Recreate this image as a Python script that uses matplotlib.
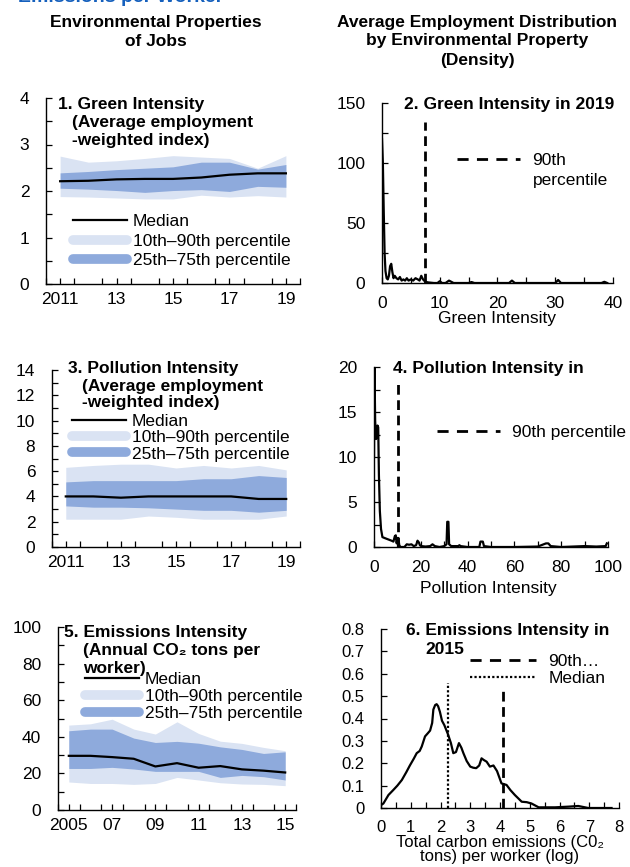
import matplotlib
matplotlib.use("Agg")
import matplotlib.pyplot as plt
from matplotlib.lines import Line2D
from matplotlib.ticker import MultipleLocator, FixedLocator

plt.rcParams["font.family"] = ["Liberation Sans", "DejaVu Sans"]

W, H = 630, 867
LIGHT = "#dae3f3"
DARK = "#8eaadc"
BLUE = "#1560bd"

# ---- panel 1: green intensity (2011-2019)
years_a = list(range(2011, 2020))
green_med = [2.21, 2.22, 2.25, 2.26, 2.26, 2.29, 2.35, 2.38, 2.38]
green_p10 = [1.88, 1.87, 1.85, 1.83, 1.83, 1.91, 1.87, 1.90, 1.87]
green_p90 = [2.75, 2.62, 2.65, 2.70, 2.76, 2.73, 2.70, 2.49, 2.76]
green_p25 = [2.06, 2.04, 2.01, 1.97, 2.01, 2.03, 1.99, 2.10, 2.08]
green_p75 = [2.39, 2.42, 2.46, 2.49, 2.52, 2.62, 2.62, 2.47, 2.57]

# ---- panel 3: pollution intensity (2011-2019)
poll_med = [4.0, 4.0, 3.9, 4.0, 4.0, 4.0, 4.0, 3.8, 3.8]
poll_p10 = [2.2, 2.2, 2.2, 2.45, 2.35, 2.2, 2.2, 2.2, 2.45]
poll_p90 = [6.3, 6.45, 6.55, 6.55, 6.25, 6.45, 6.25, 6.45, 6.1]
poll_p25 = [3.25, 3.15, 3.15, 3.1, 3.0, 2.9, 2.9, 2.75, 2.9]
poll_p75 = [5.15, 5.25, 5.25, 5.25, 5.25, 5.4, 5.4, 5.65, 5.5]

# ---- panel 5: emissions intensity (2005-2015)
years_b = list(range(2005, 2016))
em_med = [29.6, 29.6, 28.9, 28.0, 23.8, 25.6, 23.1, 24.0, 22.2, 21.5, 20.5]
em_p10 = [15.3, 14.5, 14.5, 14.0, 14.5, 17.8, 16.4, 14.9, 14.2, 14.0, 13.3]
em_p90 = [46.4, 47.1, 49.6, 44.2, 41.5, 48.2, 41.8, 37.6, 36.4, 34.2, 32.4]
em_p25 = [22.7, 22.7, 23.3, 22.4, 21.1, 21.1, 21.1, 17.8, 18.9, 18.2, 16.4]
em_p75 = [43.3, 44.2, 44.2, 39.3, 36.9, 37.5, 36.5, 34.5, 33.1, 30.9, 31.8]

# ---- panel 2: green intensity density, 2019
green_x = [0, 0.15, 0.3, 0.45, 0.6, 0.8, 1.0, 1.2, 1.4, 1.6, 1.8, 2.0, 2.2, 2.5,
           2.8, 3.1, 3.4, 3.7, 4.0, 4.3, 4.6, 5.0, 5.4, 5.8, 6.2, 6.5, 6.8, 7.1,
           7.5, 8.0, 9.0, 9.6, 10.0, 10.4, 11.0, 11.6, 12.0, 12.4, 13.0, 15.0,
           15.5, 16.0, 19.0, 22.0, 22.5, 23.0, 25.0, 30.0, 30.5, 31.0, 32.0,
           34.0, 38.0, 38.5, 39.0]
green_d = [120, 100, 60, 25, 10, 4, 3, 6, 14, 16, 9, 4, 6, 4,
           3, 5, 2, 3, 2, 4, 2, 3, 2, 4, 3, 2, 6, 3,
           1, 0.5, 0, 0, 1.5, 0, 0, 2, 1, 0, 0, 0,
           0.8, 0, 0, 0, 2, 0, 0, 0, 2.5, 0, 0,
           0, 0, 1, 0]
green_p90_2019 = 7.4

# ---- panel 4: pollution intensity density
poll_x = [0, 0.2, 0.5, 0.9, 1.2, 1.5, 1.8, 2.1, 2.5, 3.0, 3.6, 4.5, 5.5, 6.5,
          7.5, 8.3, 8.9, 9.3, 9.7, 10.0, 10.4, 10.8, 11.3, 13.0, 14.0, 15.0,
          16.0, 17.0, 18.0, 18.6, 19.2, 19.6, 20.2, 22.0, 24.0, 25.0, 26.0,
          28.0, 30.0, 31.0, 31.3, 31.8, 32.1, 33.0, 36.0, 36.5, 37.0, 40.0,
          45.0, 45.5, 46.5, 47.0, 50.0, 60.0, 70.0, 72.5, 73.5, 74.5, 75.5,
          80.0, 90.0, 95.0, 99.0, 99.5]
poll_d = [10, 20, 14, 12, 12.5, 13.5, 13.3, 8, 4, 2, 1.1, 1.0, 0.9, 0.8,
          0.7, 0.6, 1.2, 1.3, 0.4, 1.0, 1.0, 0.2, 0, 0, 0.3, 0.25,
          0.3, 0.1, 0.2, 0.7, 0.5, 0.2, 0.1, 0.05, 0.1, 0.3, 0.1,
          0, 0.1, 0.3, 2.8, 2.8, 0.3, 0.1, 0.1, 0.2, 0.1, 0,
          0, 0.6, 0.6, 0.1, 0, 0, 0.05, 0.3, 0.4, 0.4, 0.1,
          0, 0.1, 0.05, 0.1, 0.4]
poll_p90_line = 10.4

# ---- panel 6: emissions density, 2015 (log tons)
em_x = [0, 0.08, 0.25, 0.41, 0.55, 0.7, 0.85, 0.97, 1.1, 1.2, 1.3, 1.37, 1.48,
        1.58, 1.65, 1.72, 1.76, 1.82, 1.87, 1.92, 1.98, 2.05, 2.13, 2.25, 2.35,
        2.43, 2.52, 2.62, 2.7, 2.77, 2.88, 3.0, 3.1, 3.2, 3.3, 3.38, 3.45, 3.55,
        3.66, 3.78, 3.9, 4.05, 4.22, 4.35, 4.5, 4.73, 4.9, 5.06, 5.3, 5.85, 6.3,
        6.63, 6.97, 7.75]
em_d = [0.013, 0.02, 0.058, 0.08, 0.1, 0.125, 0.16, 0.19, 0.22, 0.245, 0.255,
        0.275, 0.32, 0.335, 0.346, 0.38, 0.44, 0.46, 0.464, 0.455, 0.43, 0.39,
        0.37, 0.33, 0.29, 0.245, 0.25, 0.29, 0.27, 0.245, 0.21, 0.185, 0.18,
        0.178, 0.19, 0.222, 0.215, 0.207, 0.185, 0.19, 0.165, 0.11, 0.103, 0.08,
        0.058, 0.028, 0.026, 0.02, 0.003, 0.003, 0.006, 0.009, 0.0, 0.0]
em_median_line = 2.24
em_p90_line = 4.11


def rect(l, t, r, b):
    return [l / W, 1 - b / H, (r - l) / W, (b - t) / H]


def fpos(x, y):
    return x / W, 1 - y / H


def style(ax, fs=12.5, xpad=6, ypad=12):
    for s in ("top", "right"):
        ax.spines[s].set_visible(False)
    for s in ("left", "bottom"):
        ax.spines[s].set_linewidth(1.0)
    ax.tick_params(which="both", direction="in", length=4, width=0.9,
                   labelsize=fs)
    ax.tick_params(axis="x", pad=xpad)
    ax.tick_params(axis="y", pad=ypad)


def ftext(fig, x, y, s, **kw):
    fx, fy = fpos(x, y)
    kw.setdefault("fontsize", 12.5)
    kw.setdefault("va", "center")
    fig.text(fx, fy, s, **kw)


def band_panel(ax, years, med, p10, p90, p25, p75, labels):
    ax.fill_between(years, p10, p90, color=LIGHT, lw=0)
    ax.fill_between(years, p25, p75, color=DARK, lw=0)
    ax.plot(years, med, color="black", lw=1.6)
    ax.set_xlim(years[0] - 0.5, years[-1] + 0.5)
    ax.xaxis.set_minor_locator(FixedLocator([y + 0.5 for y in range(years[0] - 1, years[-1] + 1)]))
    ax.set_xticks(years[::2])
    ax.set_xticklabels(labels)
    ax.tick_params(axis="x", which="major", length=0)


def band_legend(fig, ax, x, y, spacing):
    handles = [Line2D([], [], color="black", lw=1.6),
               Line2D([], [], color=LIGHT, lw=7, solid_capstyle="round"),
               Line2D([], [], color=DARK, lw=7, solid_capstyle="round")]
    labels = ["Median", "10th\u201390th percentile", "25th\u201375th percentile"]
    fx, fy = fpos(x, y - 8)
    ax.legend(handles, labels, loc="upper left", bbox_to_anchor=(fx, fy),
              bbox_transform=fig.transFigure, frameon=False, fontsize=12.5,
              borderpad=0, borderaxespad=0, handlelength=3.1,
              handletextpad=0.35, labelspacing=spacing)


def dash_legend(fig, ax, handles, labels, x, y, spacing=0.0, hl=3.6):
    fx, fy = fpos(x, y - 8)
    ax.legend(handles, labels, loc="upper left", bbox_to_anchor=(fx, fy),
              bbox_transform=fig.transFigure, frameon=False, fontsize=12.5,
              borderpad=0, borderaxespad=0, handlelength=hl,
              handletextpad=0.7, labelspacing=spacing)


fig = plt.figure(figsize=(W / 100, H / 100), dpi=100)

# cut-off header and column titles
ftext(fig, 18, -2, "Emissions per Worker", color=BLUE, fontsize=14,
      fontweight="bold")
ftext(fig, 156, 22, "Environmental Properties", ha="center", fontweight="bold")
ftext(fig, 156, 41, "of Jobs", ha="center", fontweight="bold")
ftext(fig, 477, 22, "Average Employment Distribution", ha="center", fontweight="bold")
ftext(fig, 477, 41, "by Environmental Property", ha="center", fontweight="bold")
ftext(fig, 477, 60, "(Density)", ha="center", fontweight="bold")

# panel 1
ax1 = fig.add_axes(rect(46, 98, 300, 284))
band_panel(ax1, years_a, green_med, green_p10, green_p90, green_p25, green_p75,
           ["2011", "13", "15", "17", "19"])
ax1.set_ylim(0, 4)
ax1.yaxis.set_major_locator(MultipleLocator(1))
ax1.yaxis.set_minor_locator(MultipleLocator(0.5))
style(ax1)
ftext(fig, 58, 105, "1. Green Intensity", fontweight="bold")
ftext(fig, 72, 123, "(Average employment", fontweight="bold")
ftext(fig, 72, 141, "-weighted index)", fontweight="bold")
band_legend(fig, ax1, 73, 222, 0.26)

# panel 2
ax2 = fig.add_axes(rect(382, 103, 613, 283))
ax2.plot(green_x, green_d, color="black", lw=1.6)
ax2.vlines(green_p90_2019, 0, 134, color="black", lw=2, linestyles=(0, (3.5, 2)))
ax2.set_xlim(0, 40)
ax2.set_ylim(0, 150)
ax2.xaxis.set_major_locator(MultipleLocator(10))
ax2.xaxis.set_minor_locator(MultipleLocator(5))
ax2.yaxis.set_major_locator(MultipleLocator(50))
ax2.yaxis.set_minor_locator(MultipleLocator(25))
style(ax2, xpad=9)
ftext(fig, 404, 105, "2. Green Intensity in 2019", fontweight="bold")
ftext(fig, 497, 318, "Green Intensity", ha="center")
dash_legend(fig, ax2, [Line2D([], [], color="black", lw=2, ls=(0, (4, 3)))],
            ["90th"], 457, 161)
ftext(fig, 533, 180, "percentile")

# panel 3
ax3 = fig.add_axes(rect(52, 370, 300, 547))
band_panel(ax3, years_a, poll_med, poll_p10, poll_p90, poll_p25, poll_p75,
           ["2011", "13", "15", "17", "19"])
ax3.set_ylim(0, 14)
ax3.yaxis.set_major_locator(MultipleLocator(2))
ax3.yaxis.set_minor_locator(MultipleLocator(1))
style(ax3)
ftext(fig, 68, 368, "3. Pollution Intensity", fontweight="bold")
ftext(fig, 82, 387, "(Average employment", fontweight="bold")
ftext(fig, 82, 403, "-weighted index)", fontweight="bold")
band_legend(fig, ax3, 72, 422, 0.06)

# panel 4
ax4 = fig.add_axes(rect(374, 367, 608, 547))
ax4.plot(poll_x, poll_d, color="black", lw=1.6)
ax4.vlines(poll_p90_line, 0, 18.1, color="black", lw=2, linestyles=(0, (3.5, 2)))
ax4.set_xlim(0, 100)
ax4.set_ylim(0, 20)
ax4.xaxis.set_major_locator(MultipleLocator(20))
ax4.xaxis.set_minor_locator(MultipleLocator(10))
ax4.yaxis.set_major_locator(MultipleLocator(5))
ax4.yaxis.set_minor_locator(MultipleLocator(2.5))
style(ax4, xpad=9)
ftext(fig, 393, 368, "4. Pollution Intensity in", fontweight="bold")
ftext(fig, 488, 588, "Pollution Intensity", ha="center")
dash_legend(fig, ax4, [Line2D([], [], color="black", lw=2, ls=(0, (4, 3)))],
            ["90th percentile"], 437, 433)

# panel 5
ax5 = fig.add_axes(rect(58, 627, 296, 810))
band_panel(ax5, years_b, em_med, em_p10, em_p90, em_p25, em_p75,
           ["2005", "07", "09", "11", "13", "15"])
ax5.set_ylim(0, 100)
ax5.yaxis.set_major_locator(MultipleLocator(20))
ax5.yaxis.set_minor_locator(MultipleLocator(10))
style(ax5)
ftext(fig, 64, 633, "5. Emissions Intensity", fontweight="bold")
ftext(fig, 83, 651, "(Annual CO\u2082 tons per", fontweight="bold")
ftext(fig, 83, 668, "worker)", fontweight="bold")
band_legend(fig, ax5, 85, 680, 0.11)

# panel 6
ax6 = fig.add_axes(rect(381, 629, 619, 808))
ax6.plot(em_x, em_d, color="black", lw=1.6)
ax6.vlines(em_median_line, 0, 0.56, color="black", lw=1.6, linestyles=(0, (1, 1)))
ax6.vlines(em_p90_line, 0, 0.54, color="black", lw=2, linestyles=(0, (3.5, 2)))
ax6.set_xlim(0, 8)
ax6.set_ylim(0, 0.8)
ax6.xaxis.set_major_locator(MultipleLocator(1))
ax6.xaxis.set_minor_locator(MultipleLocator(0.5))
ax6.yaxis.set_major_locator(MultipleLocator(0.1))
ax6.set_yticklabels(["0" if abs(v) < 1e-9 else f"{v:.1f}" for v in ax6.get_yticks()])
style(ax6, fs=12, xpad=9)
ftext(fig, 406, 631, "6. Emissions Intensity in", fontweight="bold")
ftext(fig, 425, 650, "2015", fontweight="bold")
ftext(fig, 500, 843, "Total carbon emissions (C0\u2082", ha="center", fontsize=12)
ftext(fig, 500, 857, "tons) per worker (log)", ha="center", fontsize=12)
dash_legend(fig, ax6, [Line2D([], [], color="black", lw=2, ls=(0, (4, 3))),
                       Line2D([], [], color="black", lw=1.6, ls=(0, (1, 1)))],
            ["90th\u2026", "Median"], 470, 662, spacing=0.1, hl=3.8)

fig.savefig("out.png", dpi=100)
